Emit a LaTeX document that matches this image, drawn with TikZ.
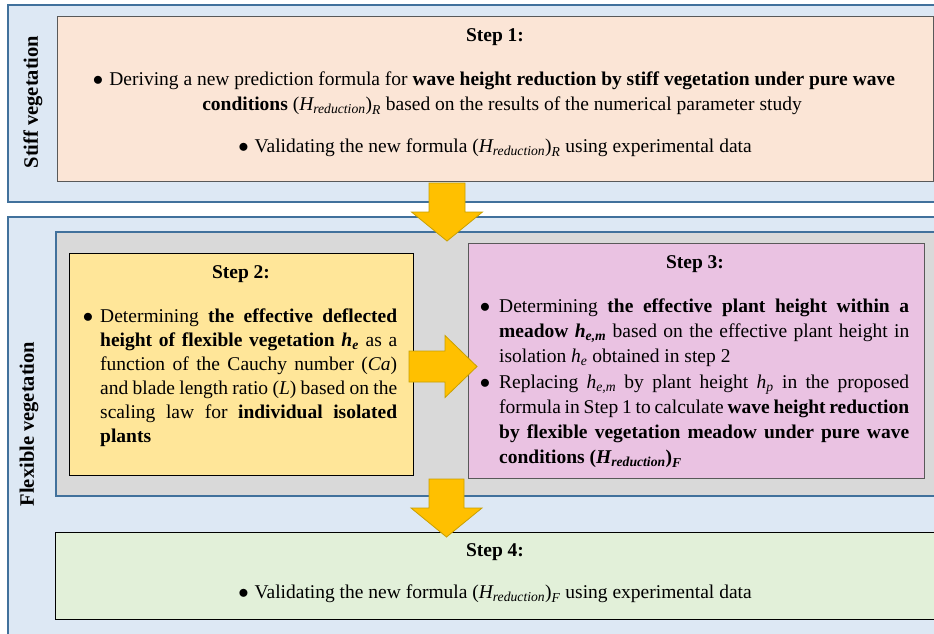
\documentclass[tikz,border=0pt]{standalone}
\usepackage{fontspec}
\setmainfont{Liberation Serif}
\usepackage{amsmath}
\definecolor{panelfill}{HTML}{DDE8F4}
\definecolor{panelline}{HTML}{41719C}
\definecolor{grayfill}{HTML}{D9D9D9}
\definecolor{sonefill}{HTML}{FBE5D6}
\definecolor{stwofill}{HTML}{FFE699}
\definecolor{sthreefill}{HTML}{EAC2E2}
\definecolor{sfourfill}{HTML}{E2F0D9}
\definecolor{boxline}{HTML}{595959}
\definecolor{arrowfill}{HTML}{FFC000}
\definecolor{arrowline}{HTML}{C9A000}
\newcommand{\bodyfont}{\fontsize{19.5}{24}\selectfont}
\newcommand{\Hred}[1]{$\text{(}\textit{H}_{\textit{reduction}}\text{)}_{\textit{#1}}$}
\newcommand{\vsub}[2]{$\textit{#1}_{\textit{#2}}$}
\tikzset{
  panel/.style={fill=panelfill, draw=panelline, line width=1.2pt},
  graypanel/.style={fill=grayfill, draw=panelline, line width=1.2pt},
  stepbox/.style={draw=#1, line width=1pt},
  barrow/.style={fill=arrowfill, draw=arrowline, line width=0.8pt, line join=miter},
  txt/.style={anchor=base, inner sep=0pt},
  title/.style={anchor=base, inner sep=0pt, font=\bodyfont\bfseries},
  sidelabel/.style={rotate=90, inner sep=0pt, font=\fontsize{20.5}{24}\selectfont\bfseries},
  para/.style={anchor=base west, inner sep=0pt, align=justify},
}
\begin{document}
\begin{tikzpicture}[x=1pt,y=-1pt,
  every node/.append style={font=\bodyfont}]
\useasboundingbox (0,0) rectangle (934,634);
\clip (0,0) rectangle (934,634);
\fill[white] (0,0) rectangle (934,634);
% panels
\draw[panel] (8,5) rectangle (950,202);
\draw[panel] (8,217) rectangle (950,650);
\draw[graypanel] (56,232) rectangle (950,496);
% step boxes
\draw[stepbox=boxline, fill=sonefill] (57,17) rectangle (933,181);
\draw[stepbox=black, fill=stwofill] (69,253) rectangle (413,475);
\draw[stepbox=boxline, fill=sthreefill] (468,243) rectangle (924,478);
\draw[stepbox=black, fill=sfourfill] (55,532) rectangle (950,619);
% block arrows
\draw[barrow] (429,183) -- (465,183) -- (465,212) -- (482.5,212) -- (447,241) -- (411.5,212) -- (429,212) -- cycle;
\draw[barrow] (409,351) -- (445,351) -- (445,335.5) -- (477,366.5) -- (445,397.5) -- (445,382) -- (409,382) -- cycle;
\draw[barrow] (429,479) -- (464,479) -- (464,508) -- (482,508) -- (446.5,537) -- (411,508) -- (429,508) -- cycle;
% side labels
\node[sidelabel] (stiff) at (33,102) {Stiff vegetation};
\node[sidelabel] (flex) at (29,424) {Flexible vegetation};
% Step 1
\node[title] (t1) at (495,42) {Step 1:};
\node[txt] (s1a) at (494,85) {$\bullet$\hspace{6pt}Deriving a new prediction formula for \textbf{wave height reduction by stiff vegetation under pure wave}};
\node[txt] (s1b) at (502,110) {\textbf{conditions} \Hred{R} based on the results of the numerical parameter study};
\node[txt] (s1c) at (495,152) {$\bullet$\hspace{6pt}Validating the new formula \Hred{R} using experimental data};
% Step 2
\node[title] (t2) at (241,278) {Step 2:};
\node[txt] (b2) at (88,322) {$\bullet$};
\node[para, text width=297pt] (p2) at (100,322) {\hyphenpenalty=10000\tolerance=10000
Determining \textbf{the effective deflected}\linebreak
\textbf{height of flexible vegetation \vsub{h}{e}} as a\linebreak
function of the Cauchy number (\textit{Ca})\linebreak
and blade length ratio (\textit{L}) based on the\linebreak
scaling law for \textbf{individual isolated}\linebreak
\textbf{plants}};
% Step 3
\node[title] (t3) at (695,268) {Step 3:};
\node[txt] (b3a) at (485,312) {$\bullet$};
\node[para, text width=410pt, font=\fontsize{19.5}{25}\selectfont] (p3a) at (499,312) {\hyphenpenalty=10000\tolerance=10000
Determining \textbf{the effective plant height within a}\linebreak
\textbf{meadow \vsub{h}{e,m}} based on the effective plant height in\linebreak
isolation \vsub{h}{e} obtained in step 2};
\node[txt] (b3b) at (485,388) {$\bullet$};
\node[para, text width=410pt, font=\fontsize{19.5}{25}\selectfont] (p3b) at (499,388) {\hyphenpenalty=10000\tolerance=10000
Replacing \vsub{h}{e,m} by plant height \vsub{h}{p} in the proposed\linebreak
formula in Step 1 to calculate \textbf{wave height reduction}\linebreak
\textbf{by flexible vegetation meadow under pure wave}\linebreak
\textbf{conditions \Hred{F}}};
% Step 4
\node[title] (t4) at (495,556) {Step 4:};
\node[txt] (s4) at (495,598) {$\bullet$\hspace{6pt}Validating the new formula \Hred{F} using experimental data};
\end{tikzpicture}
\end{document}
